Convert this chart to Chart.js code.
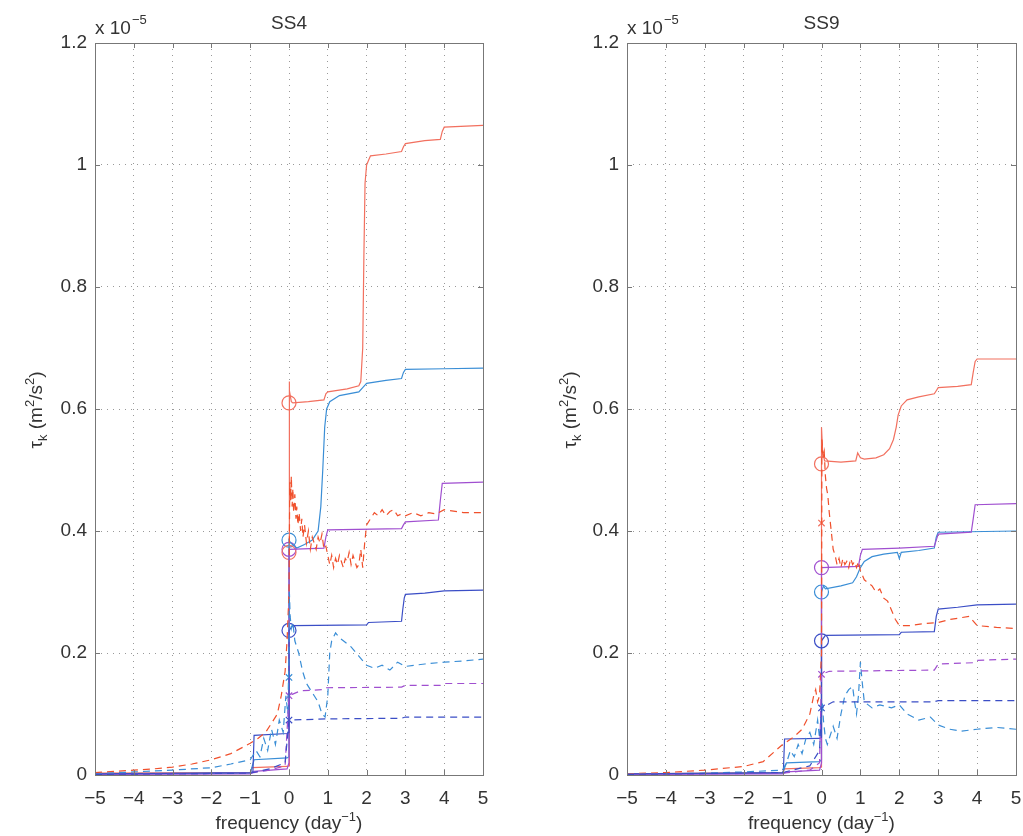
<!DOCTYPE html>
<html>
<head>
<meta charset="utf-8">
<script src="https://cdn.jsdelivr.net/npm/chart.js@4.4.1/dist/chart.umd.min.js"></script>
<style>
  html, body { margin: 0; padding: 0; background: #fff; }
  body { width: 1023px; height: 836px; position: relative; overflow: hidden; }
  canvas { position: absolute; top: 0; }
  #c4 { left: 0; }
  #c9 { left: 520px; }
</style>
</head>
<body>
<canvas id="c4" width="510" height="836"></canvas>
<canvas id="c9" width="530" height="836"></canvas>
<script>
// values in units of 1e-5 m^2/s^2, frequency in day^-1
const xTicks = [-5, -4, -3, -2, -1, 0, 1, 2, 3, 4, 5];
const yTicks = [0, 0.2, 0.4, 0.6, 0.8, 1.0, 1.2];

// ---- SS4 ----
const ss4RedSolidX = [-5, -1, -0.95, -0.05, 0, 0, 0.02, 0.06, 0.1, 0.5, 0.9, 0.95, 1.0, 1.5, 1.8, 1.85, 1.9, 1.93, 1.96, 2.0, 2.1, 2.5, 2.9, 2.95, 3.0, 3.5, 3.9, 3.95, 4.0, 5];
const ss4RedSolidY = [0.003, 0.004, 0.012, 0.014, 0.015, 0.645, 0.63, 0.612, 0.61, 0.612, 0.615, 0.625, 0.628, 0.633, 0.638, 0.645, 0.7, 0.85, 0.97, 1.0, 1.015, 1.018, 1.022, 1.03, 1.035, 1.04, 1.042, 1.055, 1.062, 1.065];
const ss4CyanSolidX = [-5, -1, -0.9, -0.05, 0, 0, 0.05, 0.2, 0.4, 0.6, 0.75, 0.82, 0.87, 0.92, 0.97, 1.05, 1.3, 1.8, 1.9, 2.0, 2.5, 2.9, 2.95, 3.0, 4.0, 5];
const ss4CyanSolidY = [0.001, 0.003, 0.025, 0.028, 0.03, 0.385, 0.38, 0.372, 0.378, 0.385, 0.4, 0.44, 0.5, 0.57, 0.6, 0.612, 0.622, 0.628, 0.635, 0.642, 0.647, 0.65, 0.66, 0.665, 0.666, 0.667];
const ss4PurpleSolidX = [-5, -1, -0.9, -0.05, 0, 0, 0.9, 0.95, 1.0, 2.9, 2.95, 3.0, 3.85, 3.9, 3.95, 5];
const ss4PurpleSolidY = [0.001, 0.002, 0.006, 0.01, 0.02, 0.37, 0.372, 0.39, 0.402, 0.404, 0.41, 0.415, 0.418, 0.45, 0.478, 0.48];
const ss4BlueSolidX = [-5, -1, -0.93, -0.9, -0.05, 0, 0, 0.1, 2.0, 2.05, 2.9, 2.93, 2.97, 3.0, 3.5, 4.0, 5];
const ss4BlueSolidY = [0.002, 0.004, 0.005, 0.065, 0.068, 0.07, 0.237, 0.245, 0.246, 0.25, 0.252, 0.27, 0.29, 0.296, 0.298, 0.302, 0.303];
const ss4RedDashX = [-5, -4, -3.5, -3, -2.5, -2, -1.5, -1, -0.8, -0.6, -0.45, -0.3, -0.2, -0.1, -0.05,
    0, 0.02, 0.04, 0.06, 0.08, 0.1, 0.12, 0.15, 0.18, 0.2, 0.23, 0.26, 0.3, 0.33, 0.36, 0.4, 0.45, 0.5, 0.55, 0.6,
    0.65, 0.7, 0.75, 0.8, 0.85, 0.9, 0.95, 1.0, 1.05, 1.1, 1.15, 1.2, 1.25, 1.3, 1.35, 1.4, 1.45, 1.5, 1.55, 1.6,
    1.65, 1.7, 1.75, 1.8, 1.85, 1.9, 1.95, 2.0,
    2.1, 2.2, 2.3, 2.4, 2.5, 2.6, 2.7, 2.8, 2.9, 3.0, 3.2, 3.4, 3.6, 3.8, 4.0, 4.5, 5];
const ss4RedDashY = [0.004, 0.008, 0.01, 0.013, 0.018, 0.025, 0.035, 0.052, 0.06, 0.07, 0.085, 0.1, 0.13, 0.17, 0.22,
    0.3, 0.48, 0.45, 0.49, 0.44, 0.47, 0.43, 0.46, 0.42, 0.44, 0.41, 0.43, 0.4, 0.42, 0.39, 0.41, 0.38, 0.4, 0.37, 0.39,
    0.38, 0.37, 0.39, 0.38, 0.395, 0.37, 0.375, 0.36, 0.345, 0.36, 0.34, 0.355, 0.345, 0.36, 0.35, 0.34, 0.355, 0.35, 0.365, 0.345,
    0.36, 0.35, 0.34, 0.345, 0.37, 0.34, 0.38, 0.41,
    0.42, 0.43, 0.425, 0.435, 0.425, 0.432, 0.435, 0.425, 0.428, 0.425, 0.43, 0.425, 0.43, 0.428, 0.435, 0.43, 0.43];
const ss4CyanDashX = [-5, -4, -3, -2, -1.5, -1, -0.85, -0.75, -0.65, -0.55, -0.45, -0.35, -0.25, -0.15, -0.08, -0.03, 0, 0.01, 0.03, 0.06, 0.1, 0.15, 0.25, 0.35, 0.45, 0.55, 0.65, 0.75, 0.85, 0.93, 1.0, 1.05, 1.1, 1.2, 1.3, 1.4, 1.6, 1.8, 2.0, 2.2, 2.4, 2.6, 2.8, 3.0, 3.5, 4.0, 4.5, 5];
const ss4CyanDashY = [0.002, 0.005, 0.008, 0.012, 0.018, 0.025, 0.04, 0.03, 0.06, 0.04, 0.075, 0.05, 0.09, 0.07, 0.13, 0.1, 0.2, 0.3, 0.26, 0.24, 0.25, 0.22, 0.2, 0.17, 0.15, 0.14, 0.13, 0.12, 0.1, 0.095, 0.13, 0.2, 0.22, 0.233, 0.225, 0.22, 0.21, 0.195, 0.18, 0.175, 0.18, 0.172, 0.185, 0.178, 0.182, 0.185, 0.187, 0.19];
const ss4PurpleDashX = [-5, -1, -0.5, -0.1, 0, 0.3, 0.9, 0.95, 2.9, 3.0, 3.9, 4.0, 5];
const ss4PurpleDashY = [0.001, 0.003, 0.008, 0.015, 0.13, 0.138, 0.14, 0.143, 0.144, 0.147, 0.147, 0.15, 0.15];
const ss4BlueDashX = [-5, -1, -0.5, -0.1, 0, 1.0, 2.9, 3.0, 5];
const ss4BlueDashY = [0.001, 0.003, 0.01, 0.02, 0.09, 0.092, 0.093, 0.095, 0.095];
const ss4CircleY = [0.61, 0.385, 0.37, 0.365, 0.237];
const ss4CrossY = [0.16, 0.13, 0.09];

// ---- SS9 ----
const ss9RedSolidX = [-5, -1, -0.95, -0.05, 0, 0, 0.03, 0.08, 0.5, 0.88, 0.93, 1.0, 1.1, 1.4, 1.6, 1.75, 1.85, 1.92, 1.97, 2.05, 2.2, 2.5, 2.9, 2.95, 3.0, 3.5, 3.85, 3.9, 3.95, 4.0, 5];
const ss9RedSolidY = [0.002, 0.004, 0.01, 0.012, 0.013, 0.57, 0.53, 0.515, 0.513, 0.515, 0.528, 0.52, 0.518, 0.52, 0.525, 0.535, 0.55, 0.57, 0.59, 0.605, 0.615, 0.62, 0.625, 0.63, 0.635, 0.637, 0.64, 0.66, 0.678, 0.682, 0.682];
const ss9CyanSolidX = [-5, -1, -0.9, -0.05, 0, 0, 0.05, 0.1, 0.5, 0.8, 0.9, 1.0, 1.1, 1.3, 1.6, 1.95, 2.0, 2.05, 2.5, 2.9, 2.95, 3.0, 5];
const ss9CyanSolidY = [0.001, 0.003, 0.02, 0.022, 0.025, 0.3, 0.31, 0.305, 0.31, 0.315, 0.325, 0.34, 0.35, 0.358, 0.362, 0.365, 0.355, 0.365, 0.368, 0.372, 0.39, 0.398, 0.4];
const ss9PurpleSolidX = [-5, -1, -0.9, -0.05, 0, 0, 0.95, 1.0, 1.05, 2.0, 2.9, 2.95, 3.0, 3.85, 3.9, 3.95, 5];
const ss9PurpleSolidY = [0.001, 0.002, 0.005, 0.008, 0.02, 0.34, 0.342, 0.36, 0.37, 0.372, 0.375, 0.385, 0.395, 0.398, 0.42, 0.443, 0.445];
const ss9BlueSolidX = [-5, -1, -0.98, -0.95, -0.05, 0, 0, 0.1, 2.0, 2.05, 2.9, 2.95, 3.0, 3.5, 4.0, 5];
const ss9BlueSolidY = [0.002, 0.004, 0.006, 0.059, 0.06, 0.062, 0.22, 0.229, 0.23, 0.234, 0.235, 0.26, 0.272, 0.275, 0.279, 0.28];
const ss9RedDashX = [-5, -4, -3, -2, -1.5, -1, -0.7, -0.5, -0.3, -0.2, -0.15, -0.1, -0.05,
    0, 0.01, 0.04, 0.07, 0.1, 0.13, 0.16, 0.2, 0.25, 0.3, 0.35, 0.4, 0.45, 0.5, 0.55, 0.6, 0.65, 0.7, 0.75, 0.8, 0.85, 0.9, 0.95, 1.0,
    1.1, 1.2, 1.3, 1.4, 1.5, 1.6, 1.7, 1.8, 1.9, 2.0, 2.3, 2.6, 3.0, 3.3, 3.6, 3.8, 4.0, 4.5, 5];
const ss9RedDashY = [0.002, 0.004, 0.008, 0.014, 0.022, 0.05, 0.063, 0.075, 0.1, 0.13, 0.14, 0.12, 0.13,
    0.2, 0.55, 0.52, 0.53, 0.49, 0.47, 0.46, 0.43, 0.4, 0.37, 0.36, 0.345, 0.355, 0.34, 0.355, 0.345, 0.35, 0.34, 0.355, 0.345, 0.35, 0.34, 0.35, 0.335,
    0.32, 0.315, 0.31, 0.3, 0.305, 0.29, 0.285, 0.27, 0.255, 0.245, 0.245, 0.248, 0.25, 0.255, 0.258, 0.26, 0.245, 0.242, 0.24];
const ss9CyanDashX = [-5, -3, -2, -1, -0.9, -0.8, -0.7, -0.6, -0.5, -0.4, -0.3, -0.2, -0.1, -0.05, 0, 0.02, 0.05, 0.1, 0.15, 0.3, 0.4, 0.5, 0.6, 0.7, 0.8, 0.85, 0.9, 0.95, 1.0, 1.05, 1.1, 1.3, 1.5, 1.8, 2.0, 2.2, 2.5, 2.8, 3.0, 3.3, 3.6, 4.0, 4.5, 5];
const ss9CyanDashY = [0.001, 0.003, 0.005, 0.008, 0.02, 0.04, 0.03, 0.05, 0.035, 0.06, 0.07, 0.05, 0.09, 0.06, 0.1, 0.12, 0.09, 0.06, 0.05, 0.08, 0.06, 0.1, 0.13, 0.14, 0.145, 0.12, 0.1, 0.13, 0.185, 0.15, 0.12, 0.11, 0.115, 0.11, 0.115, 0.1, 0.09, 0.095, 0.082, 0.075, 0.072, 0.075, 0.078, 0.075];
const ss9PurpleDashX = [-5, -1, -0.3, -0.05, 0, 0.2, 2.9, 3.0, 3.9, 4.0, 5];
const ss9PurpleDashY = [0.001, 0.003, 0.008, 0.02, 0.165, 0.17, 0.172, 0.182, 0.184, 0.188, 0.19];
const ss9BlueDashX = [-5, -1, -0.3, -0.05, 0, 0.3, 2.9, 3.0, 5];
const ss9BlueDashY = [0.001, 0.004, 0.015, 0.04, 0.11, 0.12, 0.12, 0.122, 0.122];
const ss9CircleY = [0.51, 0.34, 0.30, 0.22];
const ss9CrossY = [0.413, 0.165, 0.11];

const RED = '#f2705f', RED_D = '#f0502c', CYAN = '#3a8ed6', PURPLE = '#a04fd0', BLUE = '#3b4ec6';
const FONT = '"Liberation Sans", Arial, Helvetica, sans-serif';
const FS = 19, FS_SMALL = 13;

function pts(xs, ys) { return xs.map((x, i) => ({ x: x, y: ys[i] })); }

function lineSet(xs, ys, color, dashed) {
    return {
        data: pts(xs, ys), borderColor: color, borderWidth: 1.2,
        borderDash: dashed ? [7, 5] : [], pointRadius: 0, fill: false, tension: 0
    };
}

function markerSet(ys, color, style) {
    return {
        data: ys.map(y => ({ x: 0, y: y })), showLine: false,
        pointStyle: style, pointRadius: style === 'circle' ? 7 : 4.5,
        pointBorderColor: color, pointBackgroundColor: 'rgba(0,0,0,0)', pointBorderWidth: 1.2,
        borderColor: color
    };
}

function drawParts(ctx, parts, cx, base) {
    let total = 0;
    parts.forEach(p => { ctx.font = p[1] + 'px ' + FONT; total += ctx.measureText(p[0]).width; });
    let x = cx - total / 2;
    ctx.textAlign = 'left';
    parts.forEach(p => {
        ctx.font = p[1] + 'px ' + FONT;
        ctx.fillText(p[0], x, base + p[2]);
        x += ctx.measureText(p[0]).width;
    });
}

const framePlugin = {
    id: 'frame',
    afterDraw(chart, args, opts) {
        const { ctx, chartArea: a } = chart;
        const sx = chart.scales.x, sy = chart.scales.y;
        ctx.save();
        ctx.strokeStyle = '#777';
        ctx.lineWidth = 1;
        ctx.strokeRect(Math.round(a.left) + 0.5, Math.round(a.top) + 0.5, Math.round(a.right - a.left), Math.round(a.bottom - a.top));
        ctx.beginPath();
        xTicks.forEach(v => {
            const px = Math.round(sx.getPixelForValue(v)) + 0.5;
            ctx.moveTo(px, a.bottom); ctx.lineTo(px, a.bottom - 5);
            ctx.moveTo(px, a.top); ctx.lineTo(px, a.top + 5);
        });
        yTicks.forEach(v => {
            const py = Math.round(sy.getPixelForValue(v)) + 0.5;
            ctx.moveTo(a.left, py); ctx.lineTo(a.left + 5, py);
            ctx.moveTo(a.right, py); ctx.lineTo(a.right - 5, py);
        });
        ctx.stroke();

        ctx.fillStyle = '#333';
        const cx = (a.left + a.right) / 2;
        ctx.textBaseline = 'alphabetic';
        ctx.font = FS + 'px ' + FONT;
        ctx.textAlign = 'center';
        ctx.fillText(opts.title, cx, 29);
        // axis multiplier
        ctx.textAlign = 'left';
        ctx.fillText('x 10', a.left, 34);
        const w = ctx.measureText('x 10').width;
        ctx.font = FS_SMALL + 'px ' + FONT;
        ctx.fillText('\u22125', a.left + w + 1, 24);

        drawParts(ctx, [['frequency (day', FS, 0], ['\u22121', FS_SMALL, -8], [')', FS, 0]], cx, 829);

        ctx.translate(opts.ylabelX, 410);
        ctx.rotate(-Math.PI / 2);
        drawParts(ctx, [['\u03c4', FS, 0], ['k', FS_SMALL, 5], [' (m', FS, 0], ['2', FS_SMALL, -8], ['/s', FS, 0], ['2', FS_SMALL, -8], [')', FS, 0]], 0, 6);
        ctx.restore();
    }
};

function makeChart(id, datasets, leftWidth, rightPad, title, ylabelX) {
    return new Chart(document.getElementById(id), {
        type: 'line',
        data: { datasets: datasets },
        plugins: [framePlugin],
        options: {
            responsive: false, animation: false, devicePixelRatio: 1,
            layout: { padding: { top: 43, right: rightPad, left: 0, bottom: 0 } },
            plugins: { legend: { display: false }, tooltip: { enabled: false }, frame: { title: title, ylabelX: ylabelX } },
            scales: {
                x: {
                    type: 'linear', min: -5, max: 5,
                    afterFit: s => { s.height = 61; },
                    afterBuildTicks: s => { s.ticks = xTicks.map(v => ({ value: v })); },
                    ticks: {
                        padding: 12, color: '#333', font: { size: FS, family: FONT }, maxRotation: 0,
                        callback: v => (v < 0 ? '\u2212' + Math.abs(v) : String(v))
                    },
                    grid: { drawTicks: false, color: 'rgba(0,0,0,0.4)', lineWidth: 1 },
                    border: { display: false, dash: [1, 5] }
                },
                y: {
                    type: 'linear', min: 0, max: 1.2,
                    afterFit: s => { s.width = leftWidth; },
                    afterBuildTicks: s => { s.ticks = yTicks.map(v => ({ value: v })); },
                    ticks: {
                        padding: 8, color: '#333', font: { size: FS, family: FONT },
                        callback: v => String(+v.toFixed(1))
                    },
                    grid: { drawTicks: false, color: 'rgba(0,0,0,0.4)', lineWidth: 1 },
                    border: { display: false, dash: [1, 5] }
                }
            }
        }
    });
}

const ss4Sets = [
    lineSet(ss4BlueDashX, ss4BlueDashY, BLUE, true),
    lineSet(ss4PurpleDashX, ss4PurpleDashY, PURPLE, true),
    lineSet(ss4CyanDashX, ss4CyanDashY, CYAN, true),
    lineSet(ss4RedDashX, ss4RedDashY, RED_D, true),
    lineSet(ss4BlueSolidX, ss4BlueSolidY, BLUE, false),
    lineSet(ss4PurpleSolidX, ss4PurpleSolidY, PURPLE, false),
    lineSet(ss4CyanSolidX, ss4CyanSolidY, CYAN, false),
    lineSet(ss4RedSolidX, ss4RedSolidY, RED, false),
    markerSet([ss4CircleY[0], ss4CircleY[3]], RED, 'circle'),
    markerSet([ss4CircleY[1]], CYAN, 'circle'),
    markerSet([ss4CircleY[2]], PURPLE, 'circle'),
    markerSet([ss4CircleY[4]], BLUE, 'circle'),
    markerSet([ss4CrossY[0]], CYAN, 'crossRot'),
    markerSet([ss4CrossY[1]], PURPLE, 'crossRot'),
    markerSet([ss4CrossY[2]], BLUE, 'crossRot')
];

const ss9Sets = [
    lineSet(ss9BlueDashX, ss9BlueDashY, BLUE, true),
    lineSet(ss9PurpleDashX, ss9PurpleDashY, PURPLE, true),
    lineSet(ss9CyanDashX, ss9CyanDashY, CYAN, true),
    lineSet(ss9RedDashX, ss9RedDashY, RED_D, true),
    lineSet(ss9BlueSolidX, ss9BlueSolidY, BLUE, false),
    lineSet(ss9PurpleSolidX, ss9PurpleSolidY, PURPLE, false),
    lineSet(ss9CyanSolidX, ss9CyanSolidY, CYAN, false),
    lineSet(ss9RedSolidX, ss9RedSolidY, RED, false),
    markerSet([ss9CircleY[0]], RED, 'circle'),
    markerSet([ss9CircleY[1]], PURPLE, 'circle'),
    markerSet([ss9CircleY[2]], CYAN, 'circle'),
    markerSet([ss9CircleY[3]], BLUE, 'circle'),
    markerSet([ss9CrossY[0]], RED, 'crossRot'),
    markerSet([ss9CrossY[1]], PURPLE, 'crossRot'),
    markerSet([ss9CrossY[2]], BLUE, 'crossRot')
];

makeChart('c4', ss4Sets, 95, 27, 'SS4', 36);
makeChart('c9', ss9Sets, 107, 34, 'SS9', 50);
</script>
</body>
</html>
